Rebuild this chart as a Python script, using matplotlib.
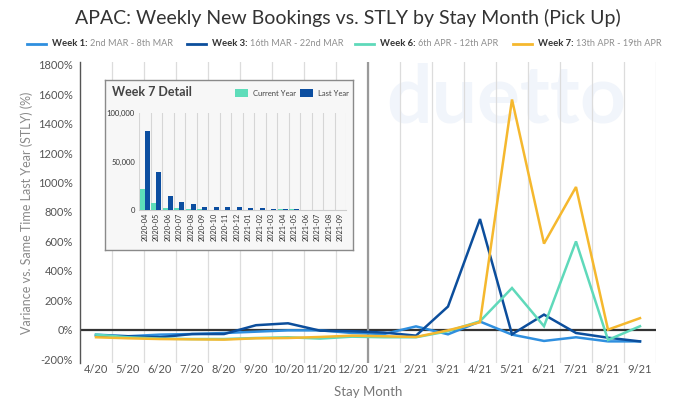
import matplotlib
matplotlib.use("Agg")
import matplotlib.pyplot as plt
import numpy as np
from matplotlib.ticker import FuncFormatter, FixedLocator
from matplotlib.patches import Rectangle

plt.rcParams['font.family'] = ['Lato', 'DejaVu Sans']

# ---------------- data ----------------
months = ['4/20', '5/20', '6/20', '7/20', '8/20', '9/20', '10/20', '11/20', '12/20',
          '1/21', '2/21', '3/21', '4/21', '5/21', '6/21', '7/21', '8/21', '9/21']
week1 = [-34, -45, -34, -30, -23, -14, -5, -5, -23, -30, 22, -32, 55, -34, -77, -52, -80, -80]
week3 = [-41, -45, -52, -30, -30, 30, 43, -7, -11, -20, -41, 157, 752, -32, 102, -23, -55, -80]
week6 = [-34, -52, -61, -64, -64, -57, -52, -61, -48, -52, -52, -11, 57, 283, 23, 600, -70, 23]
week7 = [-52, -59, -64, -66, -68, -59, -57, -50, -41, -45, -50, -5, 50, 1565, 585, 970, 0, 78]

series_names = ['Week 1:', 'Week 3:', 'Week 6:', 'Week 7:']
series_ranges = ['2nd MAR - 8th MAR', '16th MAR - 22nd MAR', '6th APR - 12th APR', '13th APR - 19th APR']
series_colors = ['#2F8FDF', '#0C4E9C', '#5FD9BA', '#F5B82E']

inset_months = ['2020-04', '2020-05', '2020-06', '2020-07', '2020-08', '2020-09', '2020-10',
                '2020-11', '2020-12', '2021-01', '2021-02', '2021-03', '2021-04', '2021-05',
                '2021-06', '2021-07', '2021-08', '2021-09']
current_year = [21600, 7200, 2500, 1600, 1000, 600, 500, 400, 400, 300, 500, 500, 700, 800, 500, 500, 200, 100]
last_year = [81700, 39600, 14200, 7900, 5900, 3400, 3600, 2700, 2700, 2000, 1700, 1300, 1000, 600, 200, 200, 100, 100]

W, H = 680, 403
fig = plt.figure(figsize=(W / 100, H / 100), dpi=100)
fig.patch.set_facecolor('white')


def fx(px):
    return px / W


def fy(py):
    return 1 - py / H


# ---------------- main axes ----------------
ax = fig.add_axes([fx(80), fy(363), fx(656) - fx(80), fy(62) - fy(363)])
ax.set_zorder(0)
x = np.arange(len(months))
series = [week1, week3, week6, week7]
for vals, col in zip(series, series_colors):
    ax.plot(x, vals, color=col, lw=1.8, solid_joinstyle='miter', zorder=3)

ax.set_xlim(-0.5, len(months) - 0.5)
ax.set_ylim(-227, 1820)
ax.set_yticks(np.arange(-200, 1801, 200))
ax.yaxis.set_major_formatter(FuncFormatter(lambda v, p: f'{int(v)}%'))
ax.set_xticks(x)
ax.set_xticklabels(months)
ax.xaxis.set_minor_locator(FixedLocator(np.arange(0.5, len(months), 1.0)))
ax.grid(which='minor', axis='x', color='#dcdcdc', lw=0.9)
ax.tick_params(axis='both', which='both', length=0)
ax.tick_params(axis='both', labelsize=8, colors='#555555')
ax.tick_params(axis='x', pad=1)
ax.tick_params(axis='y', pad=5)
for s in ['top', 'right', 'bottom']:
    ax.spines[s].set_visible(False)
ax.spines['left'].set_color('#555555')
ax.spines['left'].set_linewidth(1.0)
ax.axhline(0, color='#333333', lw=1.6, zorder=2)
ax.axvline(8.5, color='#9a9a9a', lw=1.6, zorder=2)

ax.set_xlabel('Stay Month', fontsize=9.5, color='#777777', labelpad=8)
ax.set_ylabel('Variance vs. Same Time Last Year (STLY) (%)', fontsize=9, color='#8a8a8a', labelpad=4)

# watermark
ax.text(0.74, 0.875, 'duetto', transform=ax.transAxes, fontsize=58, fontweight='bold',
        color='#F1F5FB', ha='center', va='center', zorder=1)

# ---------------- title ----------------
fig.text(0.512, fy(18), 'APAC: Weekly New Bookings vs. STLY by Stay Month (Pick Up)',
         ha='center', va='center', fontsize=14, color='#333333')

# ---------------- legend (manual) ----------------
renderer = fig.canvas.get_renderer()
leg_y = fy(44)
starts = [27, 187, 355, 513]
for name, rng, col, sx in zip(series_names, series_ranges, series_colors, starts):
    fig.add_artist(plt.Line2D([fx(sx), fx(sx + 19)], [leg_y, leg_y], color=col, lw=2,
                              transform=fig.transFigure))
    t1 = fig.text(fx(sx + 25), leg_y, name, fontsize=6.8, fontweight='bold', color='#333333',
                  ha='left', va='center')
    bb = t1.get_window_extent(renderer)
    fig.text(fx(bb.x1 + 2), leg_y, rng, fontsize=6.6, color='#8f8f8f',
             ha='left', va='center')

# ---------------- inset panel ----------------
panel = fig.add_axes([fx(105), fy(250), fx(353) - fx(105), fy(80) - fy(250)])
panel.set_zorder(5)
panel.set_facecolor('#f7f7f7')
panel.set_xticks([])
panel.set_yticks([])
for s in panel.spines.values():
    s.set_color('#8a8a8a')
    s.set_linewidth(1.0)
panel.text(fx(112), fy(92), 'Week 7 Detail', transform=fig.transFigure, fontsize=9,
           fontweight='bold', color='#444444', ha='left', va='center')
panel.add_artist(Rectangle((fx(235), fy(97)), fx(13), fy(89) - fy(97), transform=fig.transFigure,
                           facecolor='#5EDDBA', edgecolor='none'))
panel.text(fx(253), fy(93), 'Current Year', transform=fig.transFigure, fontsize=5.5,
           color='#444444', ha='left', va='center')
panel.add_artist(Rectangle((fx(300), fy(97)), fx(13), fy(89) - fy(97), transform=fig.transFigure,
                           facecolor='#0C4EA0', edgecolor='none'))
panel.text(fx(318), fy(93), 'Last Year', transform=fig.transFigure, fontsize=5.5,
           color='#444444', ha='left', va='center')

ins = fig.add_axes([fx(139), fy(210), fx(346) - fx(139), fy(113) - fy(210)])
ins.set_zorder(6)
ins.patch.set_alpha(0)
xi = np.arange(len(inset_months))
ins.bar(xi - 0.22, current_year, width=0.4, color='#5EDDBA', zorder=3)
ins.bar(xi + 0.22, last_year, width=0.44, color='#0C4EA0', zorder=3)
ins.set_xlim(-0.5, len(inset_months) - 0.5)
ins.set_ylim(0, 100000)
ins.set_yticks([0, 50000, 100000])
ins.yaxis.set_major_formatter(FuncFormatter(lambda v, p: f'{int(v):,}'))
ins.set_xticks(xi)
ins.set_xticklabels(inset_months, rotation=90, fontsize=5.3, color='#333333')
ins.xaxis.set_minor_locator(FixedLocator(np.arange(-0.5, len(inset_months), 1.0)))
ins.grid(which='minor', axis='x', color='#d6d6d6', lw=0.8)
ins.tick_params(axis='both', which='both', length=0)
ins.tick_params(axis='y', labelsize=5.5, colors='#333333', pad=3)
ins.tick_params(axis='x', pad=2)
for s in ['top', 'right', 'left']:
    ins.spines[s].set_visible(False)
ins.spines['bottom'].set_color('#cccccc')

fig.savefig('out.png', dpi=100)
